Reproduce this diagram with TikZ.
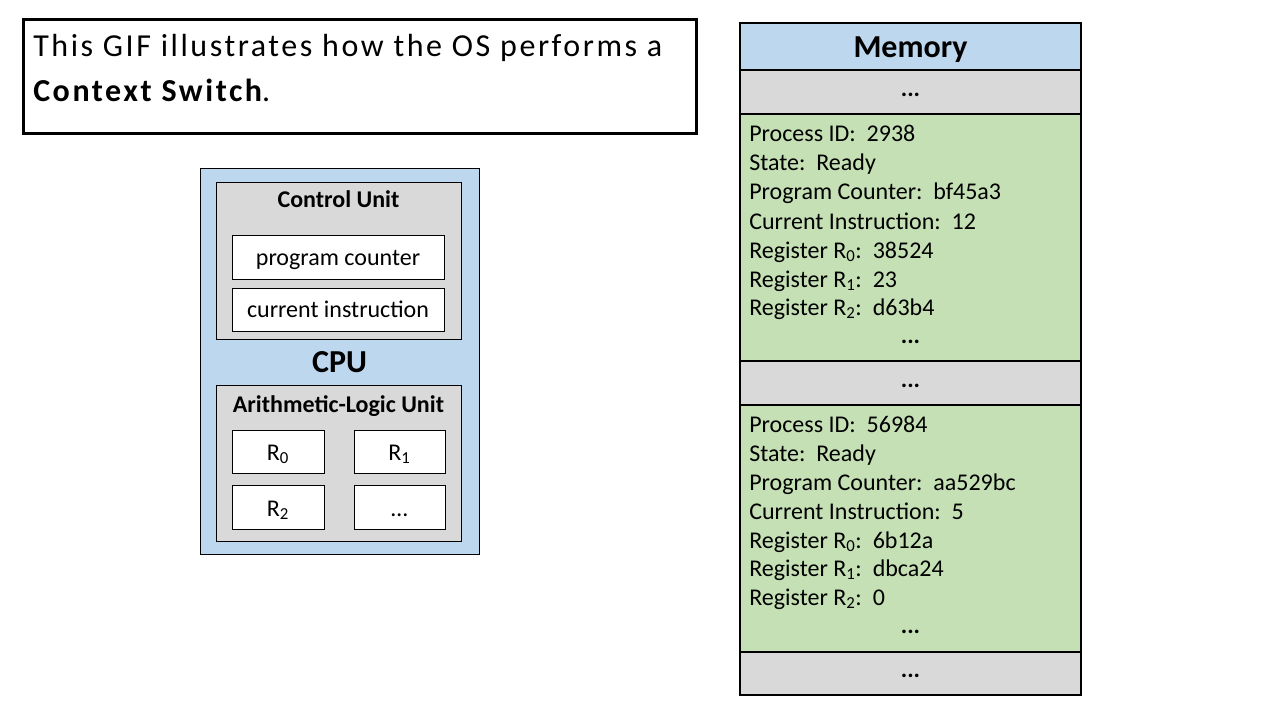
\documentclass[tikz,border=0pt]{standalone}
\usepackage{fontspec}
\setmainfont{Carlito}
\newfontfamily\titlefont[LetterSpace=8]{Carlito}
\usetikzlibrary{fit}
\definecolor{cpublue}{HTML}{BDD7EE}
\definecolor{memgreen}{HTML}{C5E0B4}
\definecolor{dotgray}{HTML}{D9D9D9}
\begin{document}
\begin{tikzpicture}[x=0.75pt,y=-0.75pt,
  frame/.style={draw=black,line width=0.75pt,inner sep=0pt,outer sep=0pt},
  memframe/.style={draw=black,line width=1pt,inner sep=0pt,outer sep=0pt},
  txt/.style={font=\fontsize{18}{21}\selectfont,inner sep=0pt},
  btxt/.style={font=\fontsize{18}{21}\selectfont\bfseries,inner sep=0pt},
  big/.style={font=\fontsize{24}{29}\selectfont\bfseries,inner sep=0pt},
  title/.style={font=\titlefont\fontsize{24}{29}\selectfont,inner sep=0pt},
  memline/.style={txt,anchor=base west},
  centered/.style={anchor=base}]
\useasboundingbox[fill=white] (0,0) rectangle (1280,720);

% title box
\node[draw=black,line width=2.25pt,inner sep=0pt,fit={(23,20) (696,134)}] (titlebox) {};
\node[title,anchor=base west] (t1) at (33,57) {This GIF illustrates how the OS performs a};
\node[title,anchor=base west] (t2) at (33,102) {\textbf{Context Switch}.};

% CPU
\node[frame,fill=cpublue,fit={(200,169) (479,554)}] (cpu) {};
\node[frame,fill=dotgray,fit={(216,183) (461,339)}] (cu) {};
\node[btxt,centered] (cul) at (338.5,208) {Control Unit};
\node[frame,fill=white,fit={(232,236) (444,279)}] (pc) {};
\node[txt,centered] (pcl) at (338,265) {program counter};
\node[frame,fill=white,fit={(232,288) (444,331)}] (ci) {};
\node[txt,centered] (cil) at (338,317) {current instruction};
\node[big,centered] (cpul) at (339.5,372) {CPU};
\node[frame,fill=dotgray,fit={(216,385) (461,541)}] (alu) {};
\node[btxt,centered] (alul) at (338.5,412) {Arithmetic-Logic Unit};
\node[frame,fill=white,fit={(232,430) (324,473)}] (r0) {};
\node[txt,centered] (r0l) at (278,460) {R\textsubscript{0}};
\node[frame,fill=white,fit={(354,430) (445,473)}] (r1) {};
\node[txt,centered] (r1l) at (399.5,460) {R\textsubscript{1}};
\node[frame,fill=white,fit={(232,485) (324,529)}] (r2) {};
\node[txt,centered] (r2l) at (278,516) {R\textsubscript{2}};
\node[frame,fill=white,fit={(354,485) (445,529)}] (rx) {};
\node[txt,centered] (rxl) at (399.5,516) {\dots};

% Memory
\node[memframe,fill=cpublue,fit={(740,23) (1081,70)}] (memh) {};
\node[big,centered] (meml) at (910.5,58) {Memory};
\node[memframe,fill=dotgray,fit={(740,70) (1081,114)}] (g1) {};
\node[btxt,centered] (g1l) at (910.5,97) {...};
\node[memframe,fill=memgreen,fit={(740,114) (1081,361)}] (p1) {};
\node[memline] (p1a) at (749,142) {Process ID:\ \ 2938};
\node[memline] (p1b) at (749,171) {State:\ \ Ready};
\node[memline] (p1c) at (749,200) {Program Counter:\ \ bf45a3};
\node[memline] (p1d) at (749,229) {Current Instruction:\ \ 12};
\node[memline] (p1e) at (749,258) {Register R\textsubscript{0}:\ \ 38524};
\node[memline] (p1f) at (749,287) {Register R\textsubscript{1}:\ \ 23};
\node[memline] (p1g) at (749,315) {Register R\textsubscript{2}:\ \ d63b4};
\node[btxt,centered] (p1h) at (910.5,343) {...};
\node[memframe,fill=dotgray,fit={(740,361) (1081,405)}] (g2) {};
\node[btxt,centered] (g2l) at (910.5,387) {...};
\node[memframe,fill=memgreen,fit={(740,405) (1081,652)}] (p2) {};
\node[memline] (p2a) at (749,432) {Process ID:\ \ 56984};
\node[memline] (p2b) at (749,461) {State:\ \ Ready};
\node[memline] (p2c) at (749,490) {Program Counter:\ \ aa529bc};
\node[memline] (p2d) at (749,519) {Current Instruction:\ \ 5};
\node[memline] (p2e) at (749,548) {Register R\textsubscript{0}:\ \ 6b12a};
\node[memline] (p2f) at (749,576) {Register R\textsubscript{1}:\ \ dbca24};
\node[memline] (p2g) at (749,605) {Register R\textsubscript{2}:\ \ 0};
\node[btxt,centered] (p2h) at (910.5,633) {...};
\node[memframe,fill=dotgray,fit={(740,652) (1081,695)}] (g3) {};
\node[btxt,centered] (g3l) at (910.5,677) {...};
\end{tikzpicture}
\end{document}
